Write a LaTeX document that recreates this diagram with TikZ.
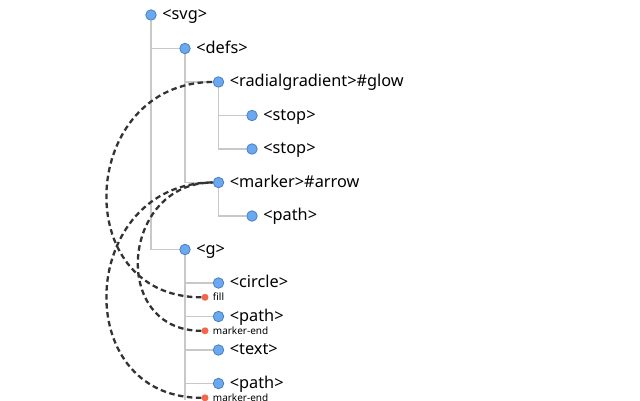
\documentclass[tikz,border=0pt]{standalone}
\usepackage{fontspec}
\setmainfont{Noto Sans}
\usetikzlibrary{arrows.meta}
\definecolor{dotB}{HTML}{6AA8F0}
\definecolor{dotBline}{HTML}{4A7FC4}
\definecolor{dotR}{HTML}{F2664B}
\definecolor{lineG}{HTML}{C8C8C8}
\definecolor{refC}{HTML}{333333}

\begin{document}
\begin{tikzpicture}[x=1pt, y=-1pt, line cap=butt,
  elem/.style={circle, fill=dotB, draw=dotBline, line width=0.8pt, minimum size=10.5pt, inner sep=0pt},
  attr/.style={circle, fill=dotR, minimum size=7pt, inner sep=0pt},
  tag/.style={anchor=base west, inner sep=0pt, font=\fontsize{16.3}{19}\selectfont},
  attrname/.style={anchor=base west, inner sep=0pt, font=\fontsize{10}{12}\selectfont},
  branch/.style={draw=lineG, line width=1.5pt},
  ref/.style={draw=refC, line width=2.3pt, dash pattern=on 5.5pt off 3.5pt}]
\useasboundingbox (0,0) rectangle (640,400);
% elements
\node[elem] (svg) at (151,15) {};
\node[elem] (defs) at (185,48.5) {};
\node[elem] (grad) at (218.5,82) {};
\node[elem] (stopA) at (252,115.5) {};
\node[elem] (stopB) at (252,149) {};
\node[elem] (marker) at (218.5,182.5) {};
\node[elem] (mpath) at (252,216) {};
\node[elem] (grp) at (185,249.5) {};
\node[elem] (circ) at (218.5,283) {};
\node[elem] (pathA) at (218.5,316.5) {};
\node[elem] (txt) at (218.5,350) {};
\node[elem] (pathB) at (218.5,383.5) {};
\coordinate (grpEnd) at (185,400);
% attributes
\node[attr] (fillA) at (205,297.3) {};
\node[attr] (endA) at (205,330.8) {};
\node[attr] (endB) at (205,397.8) {};
% tags
\node[tag] (svgT) at ([xshift=5.5pt,yshift=-4.8pt]svg.east) {<svg>};
\node[tag] (defsT) at ([xshift=5.5pt,yshift=-4.8pt]defs.east) {<defs>};
\node[tag] (gradT) at ([xshift=5.5pt,yshift=-4.8pt]grad.east) {<radialgradient>\#glow};
\node[tag] (stopAT) at ([xshift=5.5pt,yshift=-4.8pt]stopA.east) {<stop>};
\node[tag] (stopBT) at ([xshift=5.5pt,yshift=-4.8pt]stopB.east) {<stop>};
\node[tag] (markerT) at ([xshift=5.5pt,yshift=-4.8pt]marker.east) {<marker>\#arrow};
\node[tag] (mpathT) at ([xshift=5.5pt,yshift=-4.8pt]mpath.east) {<path>};
\node[tag] (grpT) at ([xshift=5.5pt,yshift=-4.8pt]grp.east) {<g>};
\node[tag] (circT) at ([xshift=5.5pt,yshift=-4.8pt]circ.east) {<circle>};
\node[tag] (pathAT) at ([xshift=5.5pt,yshift=-4.8pt]pathA.east) {<path>};
\node[tag] (txtT) at ([xshift=5.5pt,yshift=-4.8pt]txt.east) {<text>};
\node[tag] (pathBT) at ([xshift=5.5pt,yshift=-4.8pt]pathB.east) {<path>};
\node[attrname] (fillAT) at ([xshift=4pt,yshift=-3.4pt]fillA.east) {fill};
\node[attrname] (endAT) at ([xshift=4pt,yshift=-3.4pt]endA.east) {marker-end};
\node[attrname] (endBT) at ([xshift=4pt,yshift=-3.4pt]endB.east) {marker-end};
% tree
\draw[branch] (svg.south) |- (defs.west);
\draw[branch] (svg.south) |- (grp.west);
\draw[branch] (defs.south) |- (grad.west);
\draw[branch] (defs.south) |- (marker.west);
\draw[branch] (grad.south) |- (stopA.west);
\draw[branch] (grad.south) |- (stopB.west);
\draw[branch] (marker.south) |- (mpath.west);
\draw[branch] (grp.south) |- (circ.west);
\draw[branch] (grp.south) |- (pathA.west);
\draw[branch] (grp.south) |- (txt.west);
\draw[branch] (grp.south) |- (pathB.west);
\draw[branch] (grp.south) -- (grpEnd);
% references
\draw[ref] (fillA.west) .. controls +(-134,0) and +(-134,0) .. (grad.west);
\draw[ref] (endA.west) .. controls +(-92,0) and +(-92,0) .. (marker.west);
\draw[ref] (endB.west) .. controls +(-134,0) and +(-134,0) .. (marker.west);
\end{tikzpicture}
\end{document}
